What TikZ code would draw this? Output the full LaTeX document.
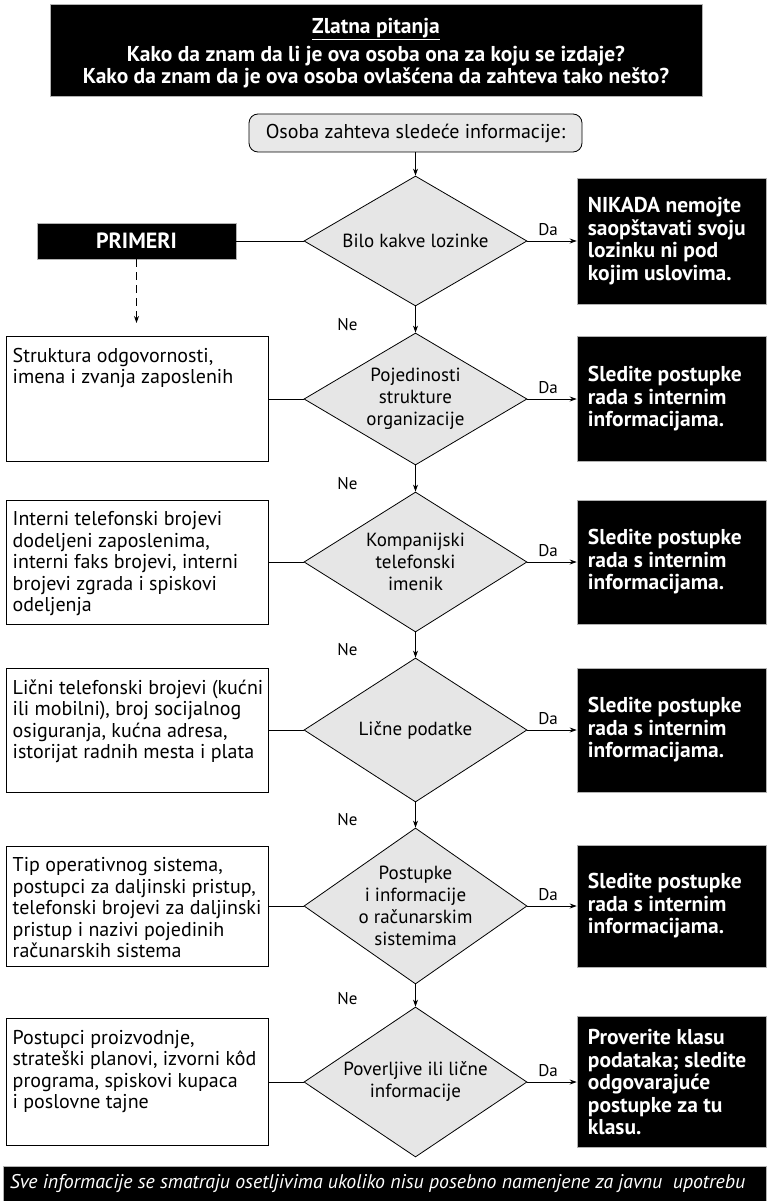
\documentclass[tikz,border=0pt]{standalone}
\usepackage{fontspec}
\setmainfont{PT Sans}
\usetikzlibrary{shapes.geometric,arrows.meta}
\definecolor{diagray}{HTML}{E6E6E6}
\definecolor{startgray}{HTML}{E8E8E8}
\begin{document}
\begin{tikzpicture}[x=1pt,y=-1pt,
  conn/.style={line width=0.9pt},
  arr/.style={line width=0.9pt,-{Stealth[length=7pt,width=5pt]}},
  dia/.style={diamond,draw,line width=0.8pt,fill=diagray,minimum width=223pt,inner sep=0pt},
  dtext/.style={align=center,inner sep=0pt,font=\fontsize{19}{22}\selectfont},
  lbox/.style={draw,line width=1pt,fill=white,minimum width=262pt,inner sep=0pt},
  ltext/.style={align=left,anchor=north west,inner sep=0pt,font=\fontsize{20}{21.5}\selectfont},
  rbox/.style={fill=black,draw=gray!60,line width=0.6pt,minimum width=189pt,inner sep=0pt},
  rtext/.style={text=white,align=left,anchor=west,inner sep=0pt,font=\bfseries\fontsize{21.5}{22.5}\selectfont},
  lab/.style={inner sep=0pt,font=\fontsize{17}{19}\selectfont},
  blackbox/.style={fill=black,draw=gray!60,line width=0.6pt,inner sep=0pt}
]
\useasboundingbox (0,0) rectangle (766,1201);
\fill[white] (0,0) rectangle (766,1201);

% header
\node[blackbox,minimum width=652pt,minimum height=92pt] (hdr) at (376,50) {};
\node[text=white,align=center,inner sep=0pt,font=\bfseries\fontsize{21.5}{22}\selectfont] (hdrt) at (376,53)
  {\underline{Zlatna pitanja}\\[6pt]Kako da znam da li je ova osoba ona za koju se izdaje?\\Kako da znam da je ova osoba ovlašćena da zahteva tako nešto?};

% start
\node[draw,line width=0.8pt,fill=startgray,rounded corners=9pt,minimum width=333pt,minimum height=38pt,inner sep=0pt,
  font=\fontsize{20}{22}\selectfont] (start) at (415.5,133) {Osoba zahteva sledeće informacije:};

% diamonds
\node[dia,minimum height=130pt] (d1) at (415.5,241) {};
\node[dtext] (d1t) at (d1) {Bilo kakve lozinke};
\node[dia,minimum height=132pt] (d2) at (415.5,399) {};
\node[dtext] (d2t) at (d2) {Pojedinosti\\strukture\\organizacije};
\node[dia,minimum height=140pt] (d3) at (415.5,562) {};
\node[dtext] (d3t) at (d3) {Kompanijski\\telefonski\\imenik};
\node[dia,minimum height=144pt] (d4) at (415.5,730) {};
\node[dtext] (d4t) at (d4) {Lične podatke};
\node[dia,minimum height=156pt] (d5) at (415.5,906) {};
\node[dtext] (d5t) at (d5) {Postupke\\i informacije\\o računarskim\\sistemima};
\node[dia,minimum height=150pt] (d6) at (415.5,1082) {};
\node[dtext] (d6t) at (d6) {Poverljive ili lične\\informacije};

% PRIMERI
\node[blackbox,minimum width=199pt,minimum height=36pt,text=white,font=\bfseries\fontsize{22}{24}\selectfont] (prim) at (136.5,241) {PRIMERI};
\coordinate (pa) at (136.5,323);

% left boxes
\node[lbox,minimum height=125pt] (l2) at (137,399) {};
\node[ltext] (l2t) at ([shift={(7,12)}]l2.north west) {Struktura odgovornosti,\\imena i zvanja zaposlenih};
\node[lbox,minimum height=124pt] (l3) at (137,562) {};
\node[ltext] (l3t) at ([shift={(7,12)}]l3.north west) {Interni telefonski brojevi\\dodeljeni zaposlenima,\\interni faks brojevi, interni\\brojevi zgrada i spiskovi\\odeljenja};
\node[lbox,minimum height=124pt] (l4) at (137,730) {};
\node[ltext] (l4t) at ([shift={(7,12)}]l4.north west) {Lični telefonski brojevi (kućni\\ili mobilni), broj socijalnog\\osiguranja, kućna adresa,\\istorijat radnih mesta i plata};
\node[lbox,minimum height=120pt] (l5) at (137,906) {};
\node[ltext] (l5t) at ([shift={(7,12)}]l5.north west) {Tip operativnog sistema,\\postupci za daljinski pristup,\\telefonski brojevi za daljinski\\pristup i nazivi pojedinih\\računarskih sistema};
\node[lbox,minimum height=127pt] (l6) at (137,1082) {};
\node[ltext] (l6t) at ([shift={(7,12)}]l6.north west) {Postupci proizvodnje,\\strateški planovi, izvorni kôd\\programa, spiskovi kupaca\\i poslovne tajne};

% right boxes
\node[rbox,minimum height=126pt] (r1) at (671.5,241) {};
\node[rtext] (r1t) at ([xshift=11pt]r1.west) {NIKADA nemojte\\saopštavati svoju\\lozinku ni pod\\kojim uslovima.};
\node[rbox,minimum height=125pt] (r2) at (671.5,399) {};
\node[rtext] (r2t) at ([xshift=11pt]r2.west) {Sledite postupke\\rada s internim\\informacijama.};
\node[rbox,minimum height=124pt] (r3) at (671.5,562) {};
\node[rtext] (r3t) at ([xshift=11pt]r3.west) {Sledite postupke\\rada s internim\\informacijama.};
\node[rbox,minimum height=124pt] (r4) at (671.5,730) {};
\node[rtext] (r4t) at ([xshift=11pt]r4.west) {Sledite postupke\\rada s internim\\informacijama.};
\node[rbox,minimum height=122pt] (r5) at (671.5,906) {};
\node[rtext] (r5t) at ([xshift=11pt]r5.west) {Sledite postupke\\rada s internim\\informacijama.};
\node[rbox,minimum height=131pt] (r6) at (671.5,1082) {};
\node[rtext] (r6t) at ([xshift=11pt]r6.west) {Proverite klasu\\podataka; sledite\\odgovarajuće\\postupke za tu\\klasu.};

% footer
\node[blackbox,minimum width=763pt,minimum height=35pt] (foot) at (384.5,1183.5) {};
\node[text=white,anchor=west,inner sep=0pt,font=\itshape\fontsize{19.8}{22}\selectfont] (foott) at ([xshift=7pt]foot.west)
  {Sve informacije se smatraju osetljivima ukoliko nisu posebno namenjene za javnu\ \ upotrebu};

% connectors
\draw[arr] (start) -- (d1);
\draw[conn] (prim) -- (d1);
\draw[arr,dashed,dash pattern=on 8pt off 5pt] (prim) -- (pa);
\foreach \i in {1,...,6}{
  \draw[arr] (d\i.east) -- (d\i.east -| r\i.west) node[lab,pos=0.42,above=5pt] {Da};
}
\foreach \i/\j in {1/2,2/3,3/4,4/5,5/6}{
  \draw[arr] (d\i) -- (d\j);
  \node[lab,anchor=south] at ([xshift=-68pt,yshift=2pt]d\j.north) {Ne};
}
\foreach \i in {2,...,6}{
  \draw[conn] (l\i) -- (d\i);
}
\end{tikzpicture}
\end{document}
